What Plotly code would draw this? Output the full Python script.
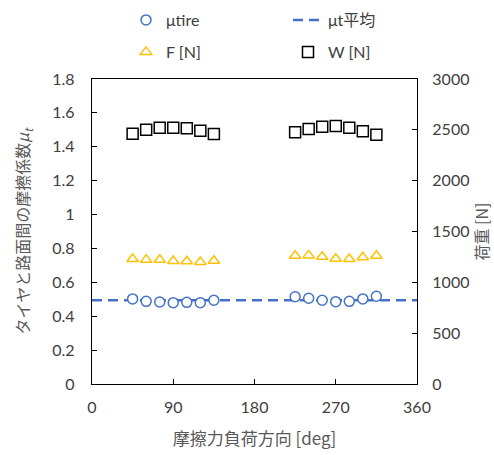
import plotly.graph_objects as go

# Friction-load direction [deg]
angle_a = [45, 60, 75, 90, 105, 120, 135]
angle_b = [225, 240, 255, 270, 285, 300, 315]
angles = angle_a + angle_b

# Tire-road friction coefficient
mu_tire = [0.502, 0.488, 0.484, 0.480, 0.482, 0.480, 0.494,
           0.515, 0.506, 0.494, 0.486, 0.488, 0.502, 0.518]
# Friction force F [N]
force_f = [1229, 1223, 1222, 1210, 1207, 1200, 1212,
           1262, 1265, 1252, 1232, 1229, 1246, 1262]
# Vertical load W [N]
load_w = [2462, 2501, 2521, 2521, 2515, 2491, 2459,
          2476, 2508, 2531, 2538, 2521, 2485, 2452]

mu_avg = sum(mu_tire) / len(mu_tire)

BLUE = "#4472C4"
ORANGE = "#FFC000"
TICK_FONT = dict(family="Lato, 'Open Sans', sans-serif", size=16, color="#404040")
TITLE_FONT = dict(family="'Noto Sans CJK JP', sans-serif", size=16, color="#595959")

fig = go.Figure()

fig.add_trace(go.Scatter(
    x=[0, 360], y=[mu_avg, mu_avg], mode="lines", name="μt平均",
    line=dict(color=BLUE, width=2.5, dash="10px,6px"),
    legend="legend2", yaxis="y",
))
fig.add_trace(go.Scatter(
    x=angles, y=mu_tire, mode="markers", name="μtire",
    marker=dict(symbol="circle", size=10, color="white",
                line=dict(color=BLUE, width=1.5)),
    legend="legend", yaxis="y",
))
fig.add_trace(go.Scatter(
    x=angles, y=force_f, mode="markers", name="F [N]",
    marker=dict(symbol="triangle-up", size=10, color="rgba(0,0,0,0)",
                line=dict(color=ORANGE, width=1.5)),
    legend="legend3", yaxis="y2",
))
fig.add_trace(go.Scatter(
    x=angles, y=load_w, mode="markers", name="W [N]",
    marker=dict(symbol="square", size=11, color="rgba(0,0,0,0)",
                line=dict(color="black", width=1.5)),
    legend="legend4", yaxis="y2",
))

legend_common = dict(
    orientation="h", xanchor="left", yanchor="middle",
    xref="container", yref="container",
    font=dict(family="Lato, 'Open Sans', 'Noto Sans CJK JP', sans-serif",
              size=16, color="#404040"),
    bgcolor="rgba(0,0,0,0)", itemclick=False,
)

W_PX, H_PX = 494, 455
col1, col2 = 126 / W_PX, 288 / W_PX
row1, row2 = 1 - 20 / H_PX, 1 - 52 / H_PX

fig.update_layout(
    width=W_PX, height=H_PX,
    margin=dict(l=92, r=77, t=79, b=71, autoexpand=False),
    paper_bgcolor="white", plot_bgcolor="white",
    showlegend=True,
    legend=dict(x=col1, y=row1, **legend_common),
    legend2=dict(x=col2, y=row1, **legend_common),
    legend3=dict(x=col1, y=row2, **legend_common),
    legend4=dict(x=col2, y=row2, **legend_common),
    xaxis=dict(
        range=[0, 360], tickvals=[0, 90, 180, 270, 360],
        ticks="inside", ticklen=5, tickcolor="black",
        showline=True, linecolor="black", linewidth=1.3, mirror=True,
        showgrid=False, zeroline=False, tickfont=TICK_FONT,
        ticklabelstandoff=9,
        title=dict(text="摩擦力負荷方向 [deg]",
                   font=dict(TITLE_FONT, size=17), standoff=17),
    ),
    yaxis=dict(
        range=[0, 1.8], dtick=0.2,
        ticks="inside", ticklen=5, tickcolor="black",
        showline=True, linecolor="black", linewidth=1.3,
        showgrid=False, zeroline=False, tickfont=TICK_FONT,
        ticklabelstandoff=13,
        title=dict(text="タイヤと路面間の摩擦係数<i>μ</i><sub><i>t</i></sub>",
                   font=TITLE_FONT, standoff=18),
    ),
    yaxis2=dict(
        range=[0, 3000], dtick=500, overlaying="y", side="right",
        ticks="inside", ticklen=5, tickcolor="black",
        showline=True, linecolor="black", linewidth=1.3,
        showgrid=False, zeroline=False, tickfont=TICK_FONT,
        ticklabelstandoff=11,
        title=dict(text="荷重 [N]", font=TITLE_FONT, standoff=0),
    ),
)

fig.write_html("out.html")
